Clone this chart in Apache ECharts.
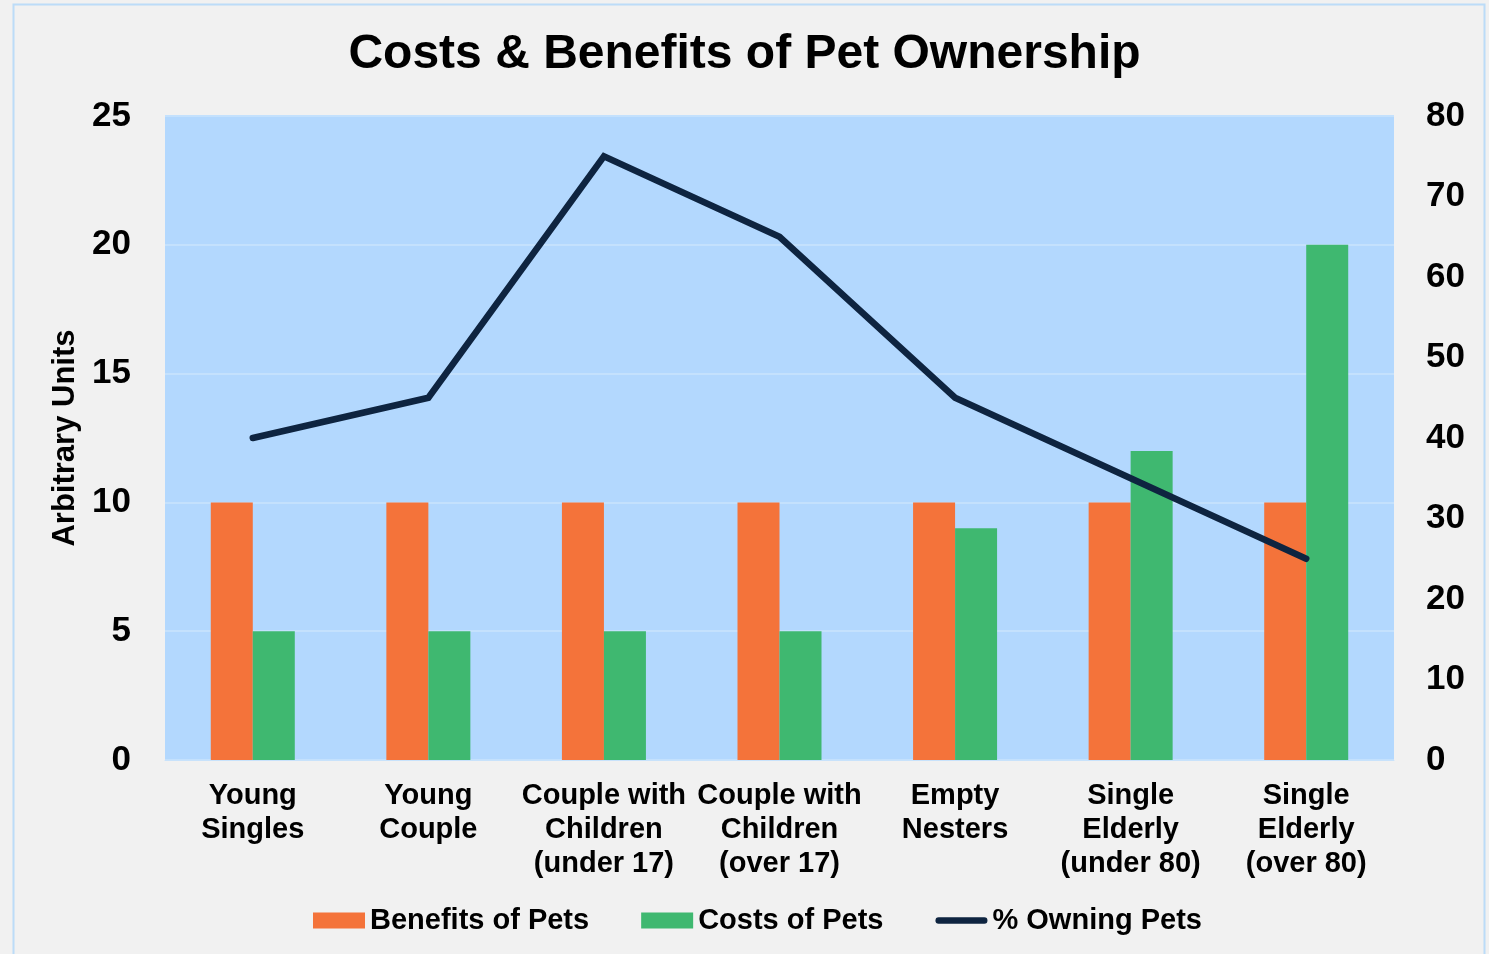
<!DOCTYPE html>
<html><head><meta charset="utf-8">
<script src="https://cdn.jsdelivr.net/npm/echarts@6/dist/echarts.min.js"></script>
<style>html,body{margin:0;padding:0;background:#f1f1f1}#c{width:1489px;height:954px}</style>
</head><body><div id="c"></div>
<script>
const categories = ['Young\nSingles','Young\nCouple','Couple with\nChildren\n(under 17)','Couple with\nChildren\n(over 17)','Empty\nNesters','Single\nElderly\n(under 80)','Single\nElderly\n(over 80)'];
const benefits = [10,10,10,10,10,10,10];
const costs = [5,5,5,5,9,12,20];
const owning = [40,45,75,65,45,35,25];
const leftTicks = [0,25,5];
const rightTicks = [0,80,10];

const font = 'Liberation Sans, Arial, sans-serif';
const chart = echarts.init(document.getElementById('c'));
chart.setOption({
  backgroundColor:'#f1f1f1',
  animation:false,
  graphic:[{type:'rect',shape:{x:13.5,y:4.5,width:1471,height:960},style:{fill:'none',stroke:'#bcdcf8',lineWidth:2},z:-1}],
  title:{text:'Costs & Benefits of Pet Ownership',left:'center',top:26,textStyle:{fontFamily:font,fontWeight:'bold',fontSize:48,color:'#000'}},
  grid:{left:165,right:95,top:116,bottom:194,show:true,backgroundColor:'#b3d8fe',borderWidth:0},
  legend:{bottom:14,left:308,itemGap:52,itemWidth:52,itemHeight:16,
    textStyle:{fontFamily:font,fontWeight:'bold',fontSize:29,color:'#000'},
    data:[{name:'Benefits of Pets',icon:'rect'},{name:'Costs of Pets',icon:'rect'},
      {name:'% Owning Pets',icon:'path://M0,0 M56,16 M3,4.5 L53,4.5 A3.5,3.5 0 0 1 53,11.5 L3,11.5 A3.5,3.5 0 0 1 3,4.5 Z',itemStyle:{color:'#0e2440'}}]},
  xAxis:{type:'category',data:categories,axisLine:{show:true,lineStyle:{color:'#c8e2fb',width:1}},axisTick:{show:false},
    axisLabel:{fontFamily:font,fontWeight:'bold',fontSize:29,lineHeight:34,color:'#000',margin:19,interval:0}},
  yAxis:[
    {type:'value',min:leftTicks[0],max:leftTicks[1],interval:leftTicks[2],name:'Arbitrary Units',nameLocation:'middle',nameGap:83,nameRotate:90,
     nameTextStyle:{fontFamily:font,fontWeight:'bold',fontSize:31,color:'#000'},
     axisLabel:{fontFamily:font,fontWeight:'bold',fontSize:35,color:'#000',margin:34,padding:[6,0,0,0]},
     splitLine:{lineStyle:{color:'#c4e1fd',width:2}},axisLine:{show:false},axisTick:{show:false}},
    {type:'value',min:rightTicks[0],max:rightTicks[1],interval:rightTicks[2],position:'right',
     axisLabel:{fontFamily:font,fontWeight:'bold',fontSize:35,color:'#000',margin:32,padding:[6,0,0,0]},
     splitLine:{show:false},axisLine:{show:false},axisTick:{show:false}}
  ],
  series:[
    {name:'Benefits of Pets',type:'bar',data:benefits,barWidth:42,barGap:'0%',itemStyle:{color:'#f4733a'}},
    {name:'Costs of Pets',type:'bar',data:costs,barWidth:42,barGap:'0%',itemStyle:{color:'#3fb870'}},
    {name:'% Owning Pets',type:'line',yAxisIndex:1,data:owning,symbol:'none',
     lineStyle:{color:'#0e2440',width:6.5,cap:'round',join:'miter'},itemStyle:{color:'#0e2440'},z:5}
  ]
});
</script></body></html>
